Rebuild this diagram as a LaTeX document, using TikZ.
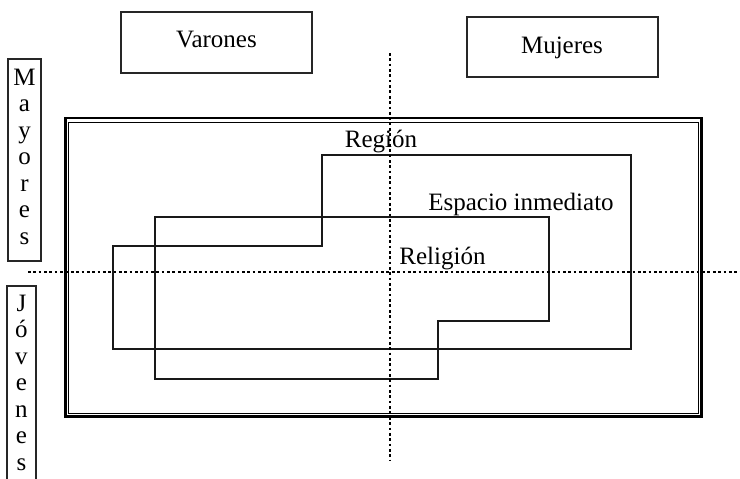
\documentclass[tikz,border=0pt]{standalone}
\usepackage{fontspec}
\setmainfont{Liberation Serif}
\begin{document}
\begin{tikzpicture}[x=1pt,y=-1pt,
  lbl/.style={inner sep=0pt,anchor=base,font=\fontsize{25}{30}\selectfont},
  boxline/.style={draw=black!85,line width=1.1pt},
  polyline/.style={draw=black!90,line width=1.2pt},
  dotline/.style={line width=2.7pt,dash pattern=on 2.7pt off 2.65pt,black}]
\clip (0,0) rectangle (740,479);
\fill[white] (0,0) rectangle (740,479);
% top boxes
\draw[boxline] (121,12) rectangle (312,73);
\node[lbl] (varones) at (216.5,47) {Varones};
\draw[boxline] (467,17) rectangle (658,77);
\node[lbl] (mujeres) at (562,53) {Mujeres};
% left boxes
\draw[boxline] (8,59) rectangle (41,261);
\foreach \c [count=\i from 0] in {M,a,y,o,r,e,s}
  \node[lbl] (may\i) at (24.5,85+26.5*\i) {\c};
\draw[boxline] (7,286) rectangle (36,500);
\foreach \c [count=\i from 0] in {J,ó,v,e,n,e,s}
  \node[lbl] (jov\i) at (21.5,311+26.5*\i) {\c};
% frame
\draw[line width=2.6pt] (65.3,117.8) rectangle (701.7,416.3);
\draw[line width=1pt] (68.8,122.2) rectangle (698.8,413.8);
% region polygons
\draw[polyline] (113,246) -- (322,246) -- (322,155) -- (631,155) -- (631,349) -- (113,349) -- cycle;
\draw[polyline] (155,217) -- (549,217) -- (549,321) -- (438,321) -- (438,379) -- (155,379) -- cycle;
% dotted axes
\coordinate (hL) at (28,272);
\coordinate (hR) at (740,272);
\coordinate (vT) at (390,53);
\coordinate (vB) at (390,461);
\draw[dotline] (hL) -- (hR);
\draw[dotline] (vT) -- (vB);
% labels
\node[lbl] (region) at (381,147) {Región};
\node[lbl] (espacio) at (521,210) {Espacio inmediato};
\node[lbl] (religion) at (442.5,264) {Religión};
\end{tikzpicture}
\end{document}
